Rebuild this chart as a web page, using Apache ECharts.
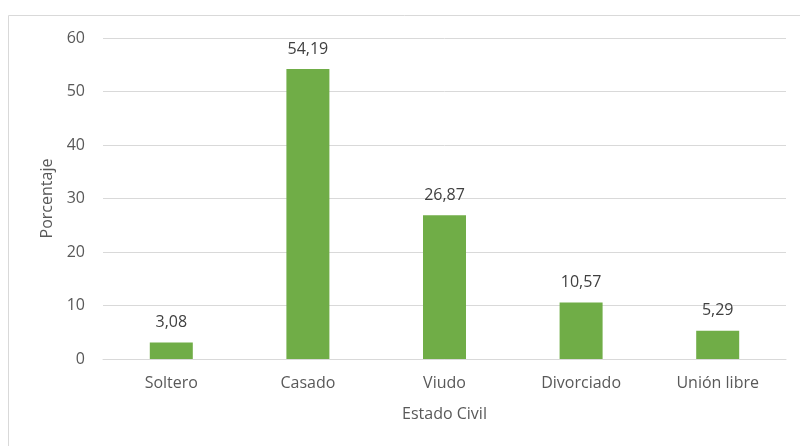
<!DOCTYPE html>
<html><head><meta charset="utf-8">
<script src="https://cdn.jsdelivr.net/npm/echarts@6/dist/echarts.min.js"></script>
<style>html,body{margin:0;padding:0;background:#fff}#c{width:800px;height:446px}</style>
</head><body><div id="c"></div>
<script>
const categories = ['Soltero', 'Casado', 'Viudo', 'Divorciado', 'Unión libre'];
const values = [3.08, 54.19, 26.87, 10.57, 5.29];
const yTicks = [0, 10, 20, 30, 40, 50, 60];
const FONT = 'Open Sans';
const chart = echarts.init(document.getElementById('c'));
chart.setOption({
  animation: false,
  graphic: [{type: 'rect', shape: {x: 8.5, y: 15.5, width: 800, height: 440}, style: {fill: 'none', stroke: '#d9d9d9', lineWidth: 1}}],
  grid: {left: 103, right: 14, top: 38, bottom: 87},
  xAxis: {
    type: 'category', data: categories,
    name: 'Estado Civil', nameLocation: 'middle', nameGap: 47,
    nameTextStyle: {color: '#595959', fontSize: 16, fontFamily: FONT},
    axisLine: {lineStyle: {color: '#d9d9d9'}}, axisTick: {show: false},
    axisLabel: {color: '#595959', fontSize: 16, fontFamily: FONT, margin: 16}
  },
  yAxis: {
    type: 'value', min: yTicks[0], max: yTicks[yTicks.length - 1], interval: 10,
    name: 'Porcentaje', nameLocation: 'middle', nameGap: 48,
    nameTextStyle: {color: '#595959', fontSize: 16, fontFamily: FONT},
    axisLine: {show: false}, axisTick: {show: false},
    axisLabel: {color: '#595959', fontSize: 16, fontFamily: FONT, margin: 18},
    splitLine: {lineStyle: {color: '#d9d9d9'}}
  },
  series: [{
    type: 'bar', data: values, barWidth: 43,
    itemStyle: {color: '#70AD47'},
    label: {show: true, position: 'top', distance: 12, color: '#404040', fontSize: 16, fontFamily: FONT,
      formatter: p => String(p.value.toFixed(2)).replace('.', ',')}
  }]
});
</script></body></html>
